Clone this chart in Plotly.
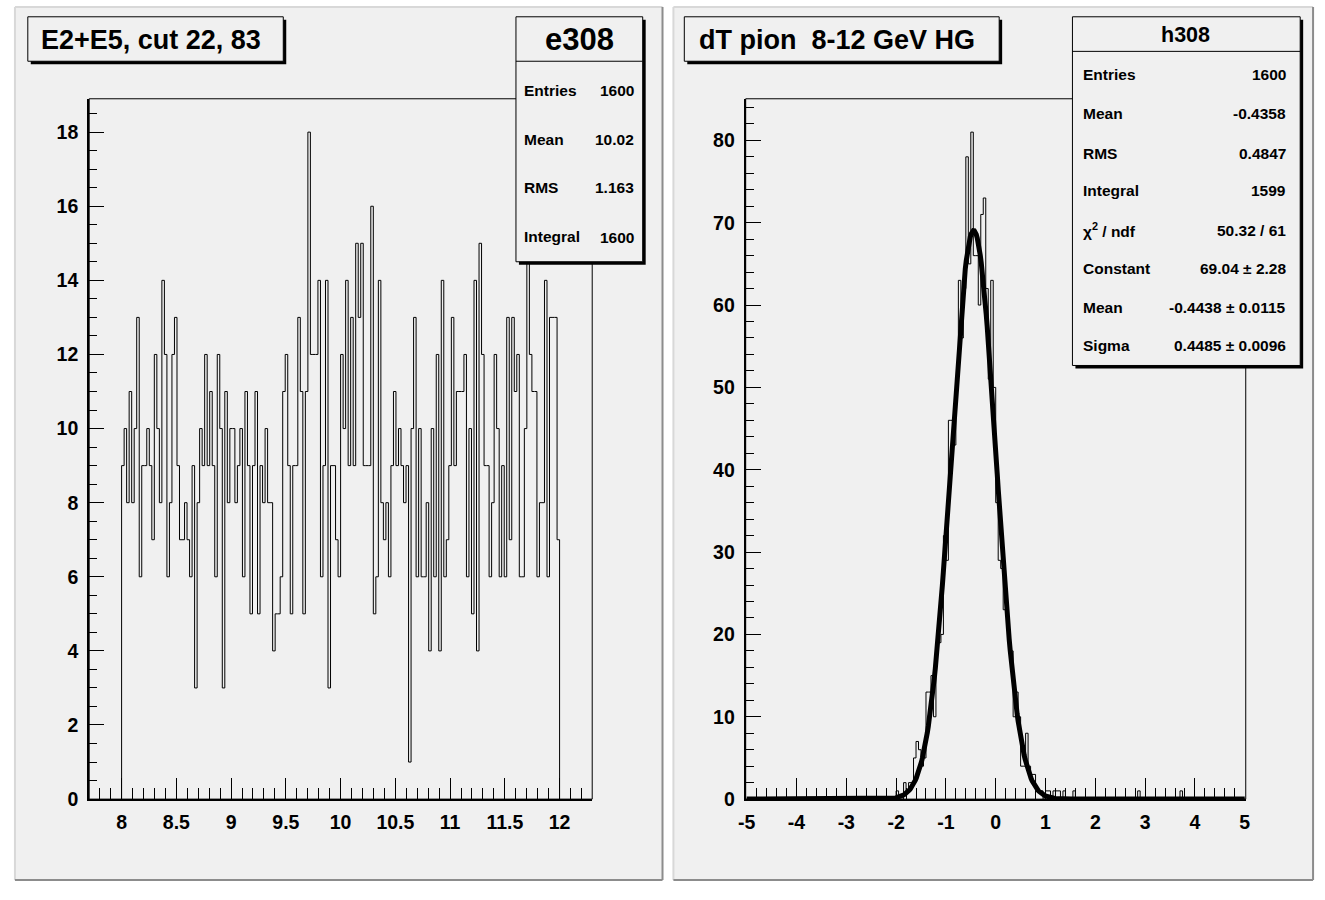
import numpy as np
import plotly.graph_objects as go

W, H = 1325, 900

# ---------------- data ----------------
# Left: e308, 174 bins from 8 to 12
left_range = (8.0, 12.0)
left_counts = [
    9, 10, 8, 11, 8, 10, 13, 6, 9, 9,
    10, 9, 7, 12, 10, 8, 14, 12, 6, 8,
    12, 13, 9, 7, 7, 8, 7, 6, 9, 3,
    8, 10, 9, 12, 9, 11, 9, 6, 12, 10,
    3, 11, 8,
    10, 10, 8, 9, 10, 6, 11, 9, 5, 9,
    11, 5, 9, 8, 10, 8, 8, 4, 5, 5,
    6, 11, 12, 9, 5, 9, 9, 13, 11, 5,
    11, 18, 12, 12, 12, 14, 6, 9, 14, 3,
    9, 9, 7, 6, 12,
    10, 14, 9, 13, 9, 15, 13, 15, 9, 9,
    9, 16, 5, 6, 14, 8, 7, 8, 6, 9,
    11, 9, 10, 9, 8, 9, 1, 10, 13, 6,
    10, 6, 6, 8, 4, 10, 6, 12, 4, 14,
    6, 7, 9, 13, 9,
    11, 11, 11, 12, 6, 10, 5, 14, 4, 15,
    12, 9, 9, 6, 8, 12, 10, 6, 9, 6,
    13, 7, 13, 11, 12, 6, 6, 10, 15, 12,
    11, 11, 6, 8, 8, 14, 6, 13, 13, 13,
    7,
]

# Right: h308, 200 bins from -5 to 5
right_range = (-5.0, 5.0)
right_counts = (
    [0] * 60 +
    [1, 0, 0, 2, 1, 2, 2, 5, 7, 6,          # 60-69
     4, 5, 13, 13, 15, 10, 19, 19, 20, 32,  # 70-79
     29, 46, 46, 43, 50, 63, 56, 62, 78, 65,  # 80-89
     81, 66, 66, 60, 71, 73, 62, 51, 63, 50,  # 90-99
     36, 29, 28, 23, 23, 19, 18, 10, 13, 10,  # 100-109
     4, 4, 8, 4, 3, 3, 1, 1, 1, 0,          # 110-119
     1, 1, 0, 1, 1, 1, 0, 1, 0, 0,          # 120-129
     0, 1, 0, 0, 0, 0, 0, 0, 0, 0,          # 130-139
     0, 0, 0, 0, 0, 0, 0, 0, 0, 0,          # 140-149
     0, 0, 0, 0, 0, 0, 0, 1, 0, 0,          # 150-159
     0, 0, 0, 0, 0, 0, 0, 0, 0, 0,          # 160-169
     0, 0, 0, 0, 1, 0, 0, 0, 0, 0] +        # 170-179
    [0] * 20
)

# Gaussian fit parameters (from stats box)
fit_constant = 69.04
fit_mean = -0.4438
fit_sigma = 0.4485

left_xticks = [8, 8.5, 9, 9.5, 10, 10.5, 11, 11.5, 12]
left_xlabels = ["8", "8.5", "9", "9.5", "10", "10.5", "11", "11.5", "12"]
left_yticks = [0, 2, 4, 6, 8, 10, 12, 14, 16, 18]
left_ylabels = ["0", "2", "4", "6", "8", "10", "12", "14", "16", "18"]
right_xticks = [-5, -4, -3, -2, -1, 0, 1, 2, 3, 4, 5]
right_xlabels = ["-5", "-4", "-3", "-2", "-1", "0", "1", "2", "3", "4", "5"]
right_yticks = [0, 10, 20, 30, 40, 50, 60, 70, 80]
right_ylabels = ["0", "10", "20", "30", "40", "50", "60", "70", "80"]

left_title = "E2+E5, cut 22, 83"
right_title = "dT pion \u00a08-12 GeV HG"
left_stats_name = "e308"
left_stats = [("Entries", "1600"), ("Mean", "10.02"), ("RMS", "1.163"), ("Integral", "1600")]
right_stats_name = "h308"
right_stats = [("Entries", "1600"), ("Mean", "-0.4358"), ("RMS", "0.4847"),
               ("Integral", "1599"), ("χ<sup>2</sup> / ndf", "50.32 / 61"),
               ("Constant", "69.04 ± 2.28"), ("Mean", "-0.4438 ± 0.0115"),
               ("Sigma", "0.4485 ± 0.0096")]

# ---------------- helpers ----------------
FONT = "Liberation Sans, Arial, Helvetica, sans-serif"
PAD = "#f0f0f0"


def px(x):
    return x / W


def py(y):
    return 1 - y / H


def step_xy(counts, lo, hi):
    n = len(counts)
    edges = np.linspace(lo, hi, n + 1)
    xs = [edges[0]] + list(edges[:n]) + [edges[n], edges[n]]
    ys = [0] + list(counts) + [counts[-1], 0]
    return xs, ys


shapes = []
annotations = []


def rect(x0, y0, x1, y1, fill=None, line_color=None, lw=1, layer="above"):
    shapes.append(dict(type="rect", xref="paper", yref="paper",
                       x0=px(x0), x1=px(x1), y0=py(y1), y1=py(y0),
                       fillcolor=fill if fill else "rgba(0,0,0,0)",
                       line=dict(color=line_color if line_color else "rgba(0,0,0,0)",
                                 width=lw if line_color else 0),
                       layer=layer))


def line(x0, y0, x1, y1, color, lw=1, layer="above"):
    shapes.append(dict(type="line", xref="paper", yref="paper",
                       x0=px(x0), x1=px(x1), y0=py(y0), y1=py(y1),
                       line=dict(color=color, width=lw), layer=layer))


def text(x, y, s, size, anchor="left"):
    annotations.append(dict(x=px(x), y=py(y), xref="paper", yref="paper",
                            text=s, showarrow=False, xanchor=anchor, yanchor="middle",
                            font=dict(family=FONT, size=size, color="black", weight="bold")))


# pads (raised bevel)
for (x0, y0, x1, y1) in [(7, 7, 661, 891), (672, 7, 1318, 891)]:
    rect(x0, y0, x1, y1, fill=PAD, layer="below")
    line(x0, y0, x1, y0, "#d8d8d8", 2, "below")
    line(x0, y0, x0, y1, "#d8d8d8", 2, "below")
    line(x0, y1, x1, y1, "#8c8c8c", 2, "below")
    line(x1, y0, x1, y1, "#8c8c8c", 2, "below")

# frames (thin top/right)
rect(82, 100, 590, 809, line_color="black", lw=1, layer="below")
rect(745, 100, 1250, 809, line_color="black", lw=1, layer="below")

# title boxes with shadow
for (x0, y0, x1, y1, t, tx) in [(20, 17, 278, 62, left_title, 31),
                                 (683, 17, 1001, 62, right_title, 696)]:
    rect(x0 + 3, y0 + 3, x1 + 3, y1 + 3, fill="black")
    rect(x0, y0, x1, y1, fill=PAD, line_color="black", lw=1)
    text(tx, (y0 + y1) / 2 + 1, t, 27)

# left stats box
rect(516, 20, 644, 268, fill="black")
rect(513, 17, 641, 265, fill=PAD, line_color="black", lw=1)
line(513, 62, 641, 62, "black", 1)
text(577, 40, left_stats_name, 31, "center")
for (lab, val), yy in zip(left_stats, [92, 141, 190, 239]):
    text(519, yy, lab, 15.5)
    text(634, yy + (1 if lab == "Integral" else 0), val, 15.5, "right")

# right stats box
rect(1078, 20, 1308, 373, fill="black")
rect(1075, 17, 1305, 370, fill=PAD, line_color="black", lw=1)
line(1075, 52, 1305, 52, "black", 1)
text(1189, 35, right_stats_name, 21.5, "center")
for (lab, val), yy in zip(right_stats, [75, 115, 155, 193, 233, 272, 311, 350]):
    text(1084, yy, lab, 15.5)
    text(1293, yy, val, 15.5, "right")

# ---------------- traces ----------------
fig = go.Figure()
lx, ly = step_xy(left_counts, *left_range)
fig.add_trace(go.Scatter(x=lx, y=ly, mode="lines", line=dict(color="black", width=1, shape="hv"),
                         xaxis="x", yaxis="y", showlegend=False, hoverinfo="skip"))
rx, ry = step_xy(right_counts, *right_range)
fig.add_trace(go.Scatter(x=rx, y=ry, mode="lines", line=dict(color="black", width=1, shape="hv"),
                         xaxis="x2", yaxis="y2", showlegend=False, hoverinfo="skip"))
fx = np.linspace(right_range[0], right_range[1], 500)
fy = fit_constant * np.exp(-0.5 * ((fx - fit_mean) / fit_sigma) ** 2)
fig.add_trace(go.Scatter(x=fx, y=fy, mode="lines", line=dict(color="black", width=5),
                         xaxis="x2", yaxis="y2", showlegend=False, hoverinfo="skip"))

tickfont = dict(family=FONT, size=19.5, color="black", weight="bold")


def xaxis(domain, rng, tv, tt, minor_dtick, minor_tick0, anchor):
    return dict(domain=domain, range=rng, tickmode="array", tickvals=tv, ticktext=tt,
                ticks="inside", ticklen=21, tickwidth=1, tickcolor="black",
                showline=True, linewidth=2, linecolor="black", showgrid=False, zeroline=False,
                tickfont=tickfont, anchor=anchor, fixedrange=True, ticklabelstandoff=4,
                minor=dict(ticks="inside", ticklen=11, tickwidth=1, tickcolor="black",
                           dtick=minor_dtick, tick0=minor_tick0, showgrid=False))


def yaxis(domain, rng, tv, tt, minor_dtick, anchor):
    return dict(domain=domain, range=rng, tickmode="array", tickvals=tv, ticktext=tt,
                ticks="inside", ticklen=15, tickwidth=1, tickcolor="black",
                showline=True, linewidth=2, linecolor="black", showgrid=False, zeroline=False,
                tickfont=tickfont, anchor=anchor, fixedrange=True, ticklabelstandoff=5,
                minor=dict(ticks="inside", ticklen=8, tickwidth=1, tickcolor="black",
                           dtick=minor_dtick, tick0=0, showgrid=False))


ydom = [py(809), py(100)]
fig.update_layout(
    width=W, height=H, margin=dict(l=0, r=0, t=0, b=0),
    paper_bgcolor="#ffffff", plot_bgcolor="rgba(0,0,0,0)",
    xaxis=xaxis([px(82), px(590)], [7.704, 12.298], left_xticks, left_xlabels, 0.1, 8, "y"),
    yaxis=yaxis(ydom, [0, 18.9], left_yticks, left_ylabels, 0.5, "x"),
    xaxis2=xaxis([px(745), px(1250)], [-5.02, 5.02], right_xticks, right_xlabels, 0.2, -5, "y2"),
    yaxis2=yaxis(ydom, [0, 85.05], right_yticks, right_ylabels, 2, "x2"),
    shapes=shapes, annotations=annotations, showlegend=False,
)

fig.write_html("out.html")
